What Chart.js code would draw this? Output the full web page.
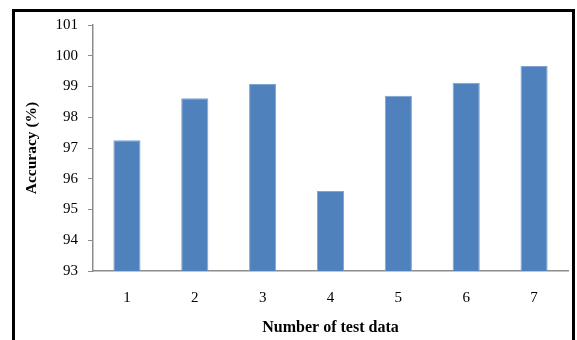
<!DOCTYPE html>
<html>
<head>
<meta charset="utf-8">
<script src="https://cdn.jsdelivr.net/npm/chart.js@4/dist/chart.umd.min.js"></script>
<style>
  html, body { margin: 0; padding: 0; background: #fff; }
  #wrap { position: relative; width: 577px; height: 340px; overflow: hidden; }
  #frame {
    position: absolute; left: 12px; top: 9px; width: 563px; height: 400px;
    box-sizing: border-box; border: 3px solid #000; border-bottom: none;
    pointer-events: none;
  }
  canvas { position: absolute; left: 0; top: 0; }
</style>
</head>
<body>
<div id="wrap">
  <canvas id="chart" width="577" height="340"></canvas>
  <div id="frame"></div>
</div>
<script>
// Accuracy per test set
const categories = ['1', '2', '3', '4', '5', '6', '7'];
const accuracy = [97.25, 98.62, 99.08, 95.6, 98.7, 99.12, 99.67];
const yTicks = [93, 94, 95, 96, 97, 98, 99, 100, 101];

const serif = '"Liberation Serif", "Times New Roman", serif';
const axisGrey = '#8c8c8c';

new Chart(document.getElementById('chart'), {
  type: 'bar',
  data: {
    labels: categories,
    datasets: [{
      data: accuracy,
      backgroundColor: '#4f81bd',
      borderColor: '#7fa3d2',
      borderWidth: 1,
      categoryPercentage: 1.0,
      barPercentage: 0.4
    }]
  },
  options: {
    responsive: false,
    animation: false,
    layout: { padding: { left: 17, top: 25, right: 9, bottom: 0 } },
    plugins: { legend: { display: false }, tooltip: { enabled: false } },
    scales: {
      x: {
        grid: { display: false, drawTicks: false },
        border: { color: axisGrey, width: 1.5 },
        ticks: { color: '#000', font: { family: serif, size: 15 }, padding: 18 },
        title: {
          display: true, text: 'Number of test data', color: '#000',
          font: { family: serif, size: 16, weight: 'bold' },
          padding: { top: 7, bottom: 3 }
        },
        afterFit(scale) { scale.height = 69; }
      },
      y: {
        min: 93, max: 101,
        afterBuildTicks(scale) { scale.ticks = yTicks.map(v => ({ value: v })); },
        grid: { drawOnChartArea: false, drawTicks: true, tickLength: 5, color: axisGrey },
        border: { color: axisGrey, width: 1.5 },
        ticks: { color: '#000', font: { family: serif, size: 15 }, padding: 10 },
        title: {
          display: true, text: 'Accuracy (%)', color: '#000',
          font: { family: serif, size: 15.5, weight: 'bold' },
          padding: { top: 6, bottom: 0 }
        },
        afterFit(scale) { scale.width = 76; }
      }
    }
  }
});
</script>
</body>
</html>
